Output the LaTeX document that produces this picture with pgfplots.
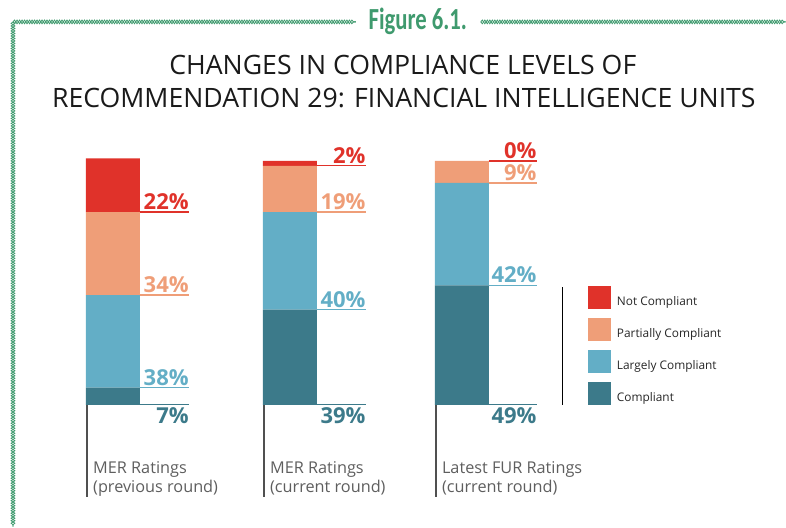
\documentclass[border=0pt]{standalone}
\usepackage{pgfplots}
\pgfplotsset{compat=1.18}
\usepackage{fontspec}
\setmainfont{Open Sans}
\newfontfamily\figfont[FakeStretch=0.74]{Carlito}
\usetikzlibrary{decorations.pathmorphing}
\definecolor{cNC}{HTML}{E0322A}
\definecolor{cPC}{HTML}{EF9E78}
\definecolor{cLC}{HTML}{63AEC6}
\definecolor{cC}{HTML}{3C7A8A}
\definecolor{cGreen}{HTML}{3F9A6E}
\definecolor{cGray}{HTML}{5E5E5E}
\definecolor{cTitle}{HTML}{1A1A1A}
\newcommand\pctfont{\fontsize{16.5}{18}\selectfont\bfseries}
\tikzset{
  chainA/.style={cGreen, line width=0.6pt, decorate, decoration={snake, segment length=3.75pt, amplitude=1.4pt}},
  chainB/.style={cGreen, line width=0.6pt, decorate, decoration={snake, segment length=3.75pt, amplitude=1.4pt, mirror}},
}
\pgfplotsset{
  common/.style={
    scale only axis, width=589.5pt, height=395.25pt,
    xmin=0, xmax=786, ymin=-50, ymax=165.98,
    hide axis, clip=false,
  },
  legsq/.style={legend image code/.code={\draw[##1,/tikz/.cd,draw=none] (0pt,-5.4pt) rectangle (17.25pt,11.85pt);}},
  toplab/.style={only marks, mark=none, nodes near coords, point meta=explicit symbolic,
    every node near coord/.style={anchor=base east, inner sep=0pt, yshift=1.9pt, font=\pctfont, text=#1}},
  botlab/.style={only marks, mark=none, nodes near coords, point meta=explicit symbolic,
    every node near coord/.style={anchor=base east, inner sep=0pt, yshift=-14.25pt, font=\pctfont, text=#1}},
}
\begin{document}
\begin{tikzpicture}
% ---------- bars ----------
\begin{axis}[common,
  ybar stacked, bar width=54,
  legend style={at={(axis cs:588,48.8)}, anchor=north west, draw=none, fill=none,
    inner sep=0pt, row sep=6.75pt, column sep=4.5pt, font=\fontsize{8.9}{10}\selectfont, text=black!85,
    nodes={inner sep=0pt}},
  legend cell align=left, reverse legend,
]
\path (rel axis cs:0,0) rectangle (rel axis cs:1,1);
\addplot[fill=cC, draw=none, legsq] coordinates {(113,7) (290,39) (462,49)};
\addplot[fill=cLC, draw=none, legsq] coordinates {(113,38) (290,40) (462,42)};
\addplot[fill=cPC, draw=none, legsq] coordinates {(113,34) (290,19) (462,9)};
\addplot[fill=cNC, draw=none, legsq] coordinates {(113,22) (290,2) (462,0)};
\legend{Compliant, Largely Compliant, Partially Compliant, Not Compliant}
\end{axis}
% ---------- lines, labels, decoration ----------
\begin{axis}[common, unbounded coords=jump]
% boundary lines of each segment
\addplot[cNC, line width=1pt] coordinates {(140,79) (189,79) (0,nan) (317,98) (366,98) (0,nan) (489,100) (537,100)};
\addplot[cPC, line width=1pt] coordinates {(140,45) (189,45) (0,nan) (317,79) (366,79) (0,nan) (489,91) (537,91)};
\addplot[cLC, line width=1pt] coordinates {(140,7) (189,7) (0,nan) (317,39) (366,39) (0,nan) (489,49) (537,49)};
\addplot[cC, line width=1pt] coordinates {(86,0) (189,0) (0,nan) (263,0) (366,0) (0,nan) (435,0) (537,0)};
% percentage labels
\addplot[toplab=cNC] table[meta=l] {
x y l
189 79 22\%
366 98 2\%
537 100 0\%
};
\addplot[toplab=cPC] table[meta=l] {
x y l
189 45 34\%
366 79 19\%
537 91 9\%
};
\addplot[toplab=cLC] table[meta=l] {
x y l
189 7 38\%
366 39 40\%
537 49 42\%
};
\addplot[botlab=cC] table[meta=l] {
x y l
189 0 7\%
366 0 39\%
537 0 49\%
};
% category axis lines
\draw[cGray!85!black, line width=1.5pt] (axis cs:87,0) -- (axis cs:87,-37.7);
\draw[cGray!85!black, line width=1.5pt] (axis cs:264,0) -- (axis cs:264,-37.7);
\draw[cGray!85!black, line width=1.5pt] (axis cs:436,0) -- (axis cs:436,-37.7);
% legend rule
\draw[black, line width=0.8pt] (axis cs:563,0) -- (axis cs:563,48.4);
% category labels
\begin{scope}[every node/.style={anchor=base west, inner sep=0pt, text=cGray, font=\fontsize{12.2}{14}\selectfont}]
\node at (axis cs:93,-28.3) {MER Ratings};
\node at (axis cs:93,-36.1) {(previous round)};
\node at (axis cs:270,-28.3) {MER Ratings};
\node at (axis cs:270,-36.1) {(current round)};
\node at (axis cs:442,-28.3) {Latest FUR Ratings};
\node at (axis cs:442,-36.1) {(current round)};
\end{scope}
% title
\node[anchor=base, inner sep=0pt, text=cTitle, font=\fontsize{20}{24}\selectfont] at (axis cs:403,135.25) {CHANGES IN COMPLIANCE LEVELS OF};
\node[anchor=base, inner sep=0pt, text=cTitle, font=\fontsize{20}{24}\selectfont] at (axis cs:404,122.1) {RECOMMENDATION 29: FINANCIAL INTELLIGENCE UNITS};
% figure caption
\node[anchor=base, inner sep=0pt, text=cGreen, font=\figfont\fontsize{23}{26}\selectfont\bfseries] at (axis cs:418,153.7) {Figure 6.1.};
% chain border
\draw[chainA] (axis cs:13,157) -- (axis cs:356,157);
\draw[chainB] (axis cs:13,157) -- (axis cs:356,157);
\draw[chainA] (axis cs:481,157) -- (axis cs:786,157);
\draw[chainB] (axis cs:481,157) -- (axis cs:786,157);
\draw[chainA] (axis cs:13,157) -- (axis cs:13,-50);
\draw[chainB] (axis cs:13,157) -- (axis cs:13,-50);
\end{axis}
\end{tikzpicture}
\end{document}
